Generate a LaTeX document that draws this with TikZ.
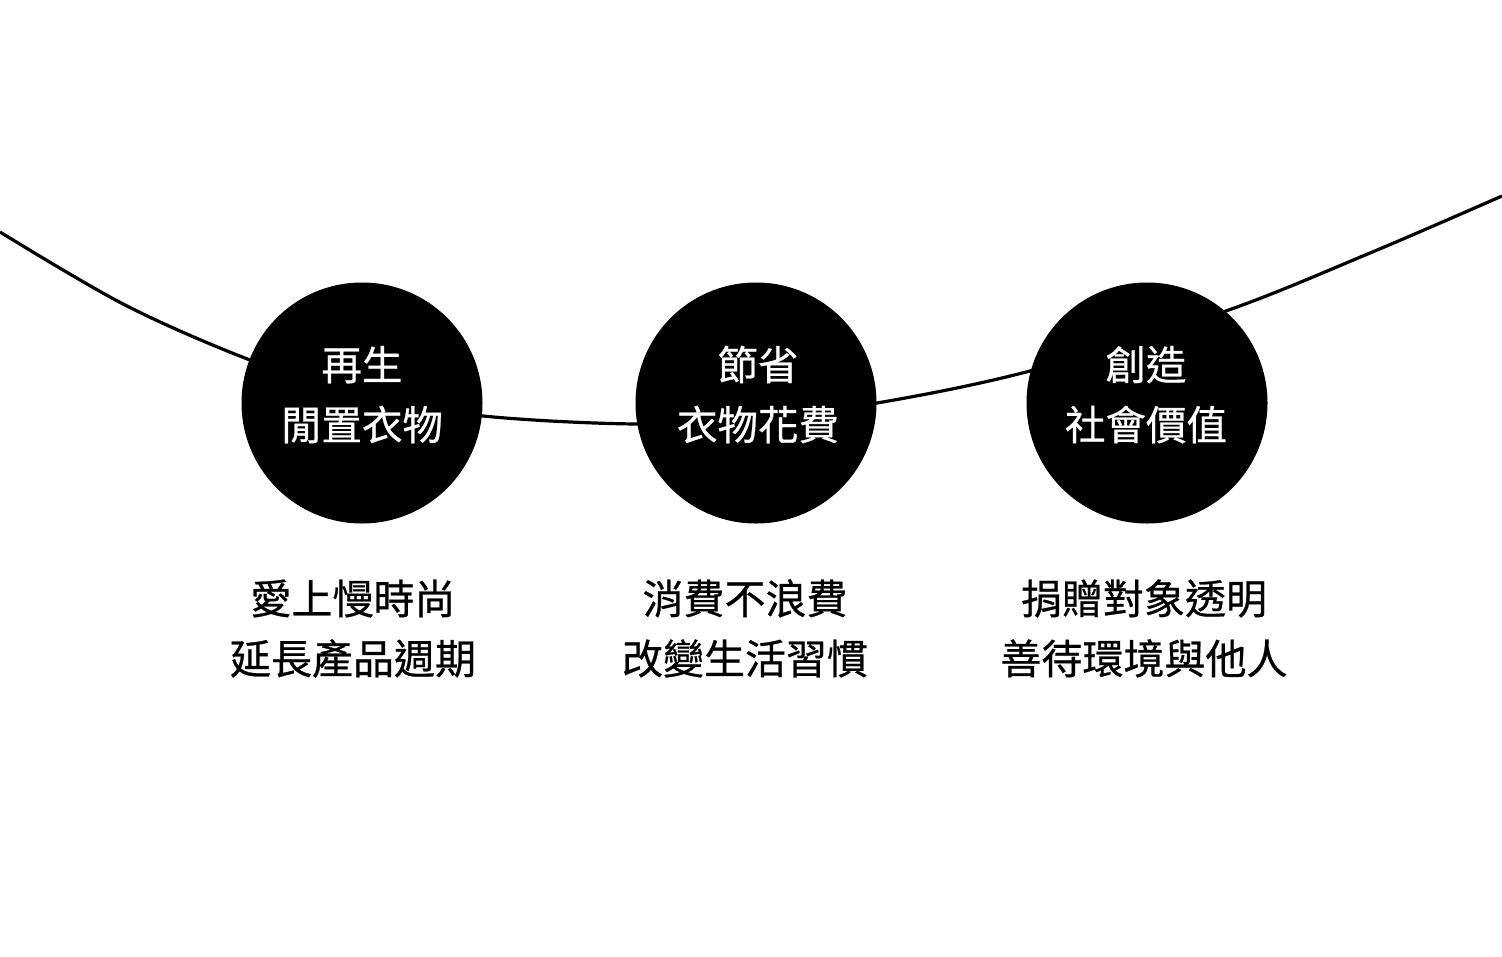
\documentclass[tikz,border=0pt]{standalone}
\usepackage{fontspec}
\newfontfamily\cjk[FakeBold=0.6]{Noto Sans CJK TC}
\newcommand{\lnstrut}{\rule[-15pt]{0pt}{60pt}}
\begin{document}
\begin{tikzpicture}[x=1pt,y=-1pt,
  dot/.style={circle,fill=black,draw=none,minimum size=241pt,inner sep=0pt},
  intext/.style={text=white,font=\cjk\fontsize{40.5}{60}\selectfont,align=center,inner sep=0pt},
  outtext/.style={text=black,font=\cjk\fontsize{41}{60}\selectfont,align=center,inner sep=0pt},
  wave/.style={line width=3.2pt,black}]
\useasboundingbox (0,0) rectangle (1502,956);
\fill[white] (0,0) rectangle (1502,956);
\draw[wave] plot[smooth,tension=0.55] coordinates {(0,232) (125,305) (250,360) (362,396) (483,416) (637,424) (756,418) (877,403) (1030,371) (1223,312) (1370,253) (1502,196)};
\node[dot] (c1) at (362,403) {};
\node[dot] (c2) at (756,403) {};
\node[dot] (c3) at (1147,403) {};
\node[intext] (t1) at (362,395) {\lnstrut 再生\\\lnstrut 閒置衣物};
\node[intext] (t2) at (758,395) {\lnstrut 節省\\\lnstrut 衣物花費};
\node[intext] (t3) at (1146,395) {\lnstrut 創造\\\lnstrut 社會價值};
\node[outtext] (b1) at (353,629) {\lnstrut 愛上慢時尚\\\lnstrut 延長產品週期};
\node[outtext] (b2) at (745,629) {\lnstrut 消費不浪費\\\lnstrut 改變生活習慣};
\node[outtext] (b3) at (1144,629) {\lnstrut 捐贈對象透明\\\lnstrut 善待環境與他人};
\end{tikzpicture}
\end{document}
